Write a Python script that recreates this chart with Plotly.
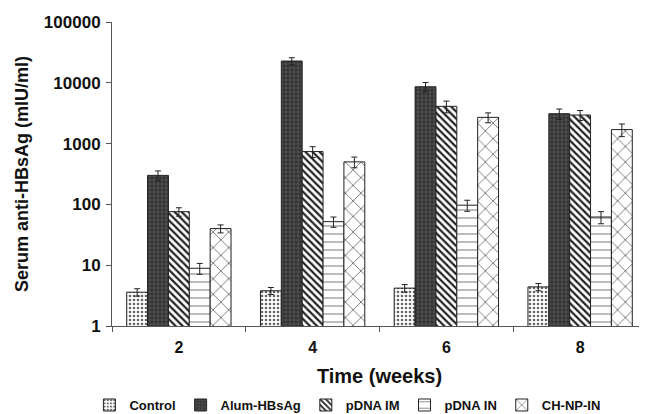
import plotly.graph_objects as go

weeks = ["2", "4", "6", "8"]
series = ["Control", "Alum-HBsAg", "pDNA IM", "pDNA IN", "CH-NP-IN"]
control = [3.6, 3.8, 4.2, 4.4]
alum = [300, 22800, 8600, 3100]
pdna_im = [76, 740, 4100, 2950]
pdna_in = [8.9, 52, 97, 62]
chnp_in = [40, 500, 2700, 1700]
err_control = [0.5, 0.5, 0.6, 0.6]
err_alum = [55, 3000, 1500, 600]
err_pdna_im = [12, 150, 900, 550]
err_pdna_in = [1.8, 10, 20, 14]
err_chnp_in = [6, 100, 500, 400]

values = [control, alum, pdna_im, pdna_in, chnp_in]
errors = [err_control, err_alum, err_pdna_im, err_pdna_in, err_chnp_in]

styles = [
    dict(bgcolor="white", shape=".", fgcolor="#666666", size=4, solidity=0.35),
    dict(bgcolor="#333333", shape="+", fgcolor="#777777", size=4, solidity=0.2),
    dict(bgcolor="white", shape="\\", fgcolor="#222222", size=5, solidity=0.45),
    dict(bgcolor="white", shape="-", fgcolor="#555555", size=8, solidity=0.1),
    dict(bgcolor="white", shape="x", fgcolor="#444444", size=11, solidity=0.12),
]

fig = go.Figure()
for name, vals, errs, st in zip(series, values, errors, styles):
    fig.add_trace(go.Bar(
        x=weeks, y=vals, name=name,
        marker=dict(color=st["bgcolor"], line=dict(color="#222222", width=1),
                    pattern=dict(shape=st["shape"], fgcolor=st["fgcolor"],
                                 bgcolor=st["bgcolor"], size=st["size"],
                                 solidity=st["solidity"], fillmode="replace")),
        error_y=dict(type="data", array=errs, color="#222222", thickness=1, width=3),
    ))

# page has an 8px body margin: figure sized to fill the remaining window
fig.update_layout(
    width=639, height=406,
    margin=dict(l=104, r=0, t=14, b=88, autoexpand=False),
    paper_bgcolor="white", plot_bgcolor="white",
    barmode="group", bargap=0.22, bargroupgap=0,
    font=dict(family="Liberation Sans, Arial, sans-serif", color="#111111"),
    showlegend=True,
    legend=dict(orientation="h", x=0.44, xanchor="center", y=-0.26, yanchor="middle",
                font=dict(size=13, weight="bold"), itemwidth=30,
                traceorder="normal", tracegroupgap=0),
)
fig.update_xaxes(
    type="category", showline=True, linecolor="#555555", linewidth=1,
    ticks="outside", tickson="boundaries", ticklen=5, tickcolor="#555555",
    tickfont=dict(size=16, weight="bold"), automargin=False, ticklabelstandoff=7,
    title=dict(text="Time (weeks)", font=dict(size=20, weight="bold"), standoff=13),
    showgrid=False,
)
fig.update_yaxes(
    type="log", range=[0, 5], showline=True, linecolor="#555555", linewidth=1,
    ticks="outside", ticklen=5, tickcolor="#555555", ticklabelstandoff=2,
    tickvals=[1, 10, 100, 1000, 10000, 100000],
    ticktext=["1", "10", "100", "1000", "10000", "100000"],
    tickfont=dict(size=17, weight="bold"), automargin=False,
    title=dict(text="Serum anti-HBsAg (mIU/ml)", font=dict(size=18, weight="bold"), standoff=10),
    showgrid=False, zeroline=False,
)

fig.write_html("out.html")
